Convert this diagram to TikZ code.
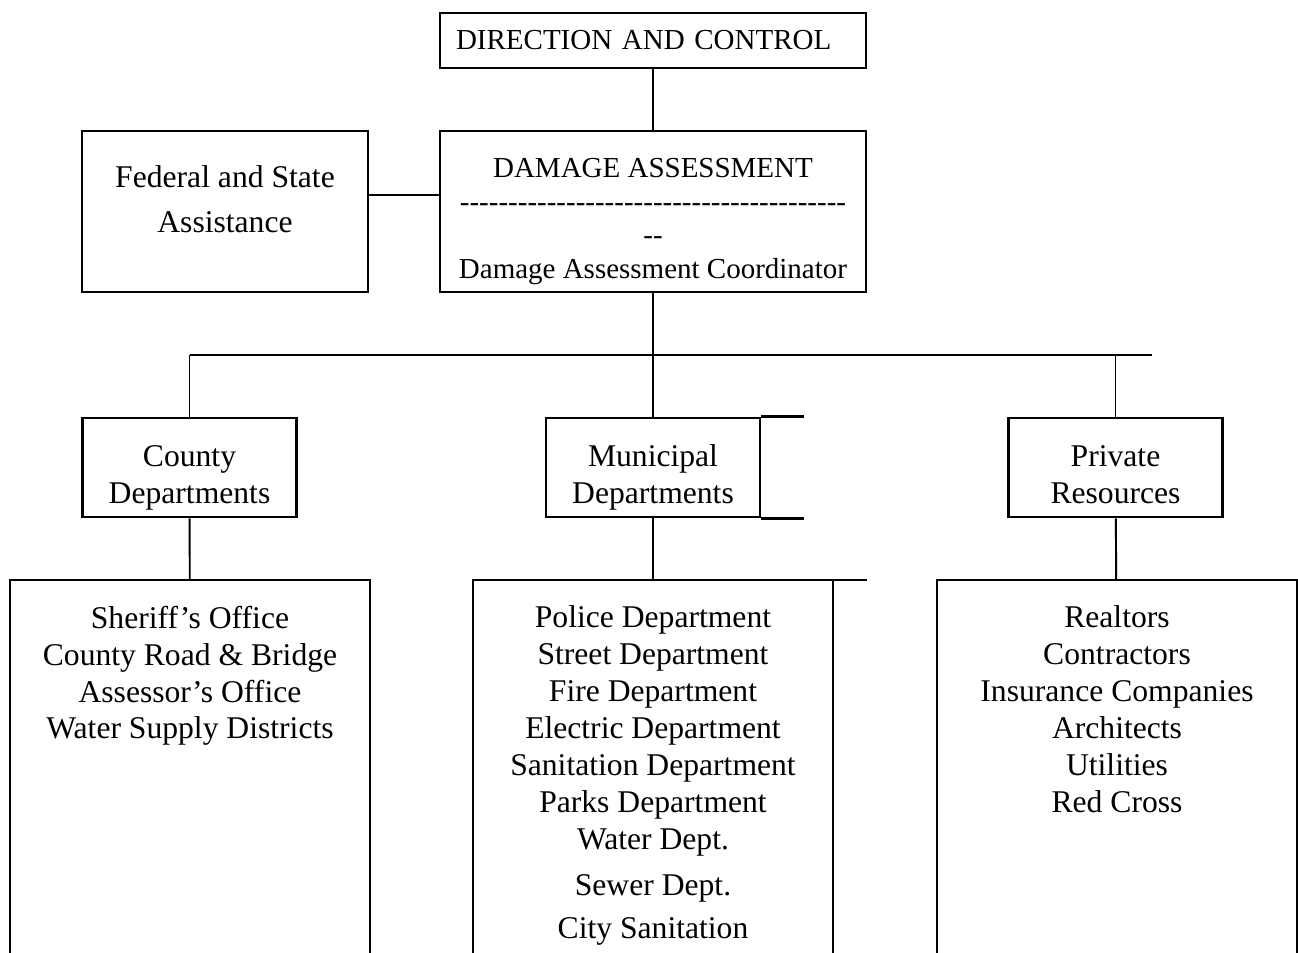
\documentclass[tikz,border=0pt]{standalone}
\usepackage{fontspec}
\setmainfont{Liberation Serif}[Ligatures=TeXOff]
\usepackage{tikz}
\usetikzlibrary{calc}

\newcommand{\topstrut}[1]{\rule{0pt}{#1}}

\begin{document}
\begin{tikzpicture}[x=0.02cm, y=-0.02cm, line width=1.1pt,
	main/.style = {draw, line width=1.5pt, align=center, inner sep=0pt, font=\fontsize{18}{21}\selectfont},
	head/.style = {main, font=\fontsize{16.5}{19}\selectfont, minimum width=8.52cm},
	dept/.style = {main, minimum height=1.98cm, minimum width=4.28cm, text depth=0pt},
	list/.style = {align=center, inner xsep=0pt, inner ysep=0.5cm, minimum width=7.16cm, font=\fontsize{18}{21}\selectfont}]
	\clip (0,0) rectangle (1298,953);
	
	\node[head, minimum height=1.1cm, text width=7.88cm, align=left] (dc) at (653,40.5) {DIRECTION AND CONTROL};
	\node[head, minimum height=3.22cm, text depth=0pt] (da) at (653,211.5) {\topstrut{0.66cm}DAMAGE ASSESSMENT\\ ----------------------------------------\\ --\\ Damage Assessment Coordinator};
	\node[main, minimum width=5.72cm, minimum height=3.22cm, text depth=0.5cm] (fed) at (225,211.5) {Federal and State\\[0.18cm] Assistance};
	
	\node[dept] (cd) at (189.5,467.5) {\topstrut{0.7cm}County\\ Departments};
	\node[dept] (md) at (653,467.5) {\topstrut{0.7cm}Municipal\\ Departments};
	\node[dept] (pr) at (1115.5,467.5) {\topstrut{0.7cm}Private\\ Resources};
	
	\node[list, anchor=north] (cl) at (190,580) {Sheriff’s Office\\ County Road \& Bridge\\ Assessor’s Office\\ Water Supply Districts};
	\node[list, anchor=north] (ml) at (653,580) {Police Department\\ Street Department\\ Fire Department\\ Electric Department\\ Sanitation Department\\ Parks Department\\ Water Dept.\\[0.18cm] Sewer Dept.\\[0.12cm] City Sanitation};
	\node[list, anchor=north] (pl) at (1117,580) {Realtors\\ Contractors\\ Insurance Companies\\ Architects\\ Utilities\\ Red Cross};
	
	\coordinate (bus) at (653,355);
	\coordinate (base) at (653,960);
	
	% lower boxes run off the bottom of the page
	\foreach \n in {cl,ml,pl}
		\draw[line width=1.5pt] (\n.north west |- base) -- (\n.north west) -- (\n.north east) -- (\n.north east |- base);
	\draw[line width=1.5pt] (md.north east) -- ++(43,0);
	\draw[line width=1.5pt] (md.south east) -- ++(43,0);
	\draw[line width=1.5pt] (ml.north east) -- ++(34,0);
	
	\draw (dc) -- (da);
	\draw ([yshift=0.33cm]fed.east) -- ([yshift=0.33cm]da.west);
	\draw (da) -- (bus);
	\draw (cd.north |- bus) -- ([xshift=0.73cm]pr.north |- bus);
	\foreach \n in {cd,md,pr}
		\draw (\n.north |- bus) -- (\n);
	\draw (cd) -- (cl);
	\draw (md) -- (ml);
	\draw (pr) -- (pl);
\end{tikzpicture}
\end{document}
